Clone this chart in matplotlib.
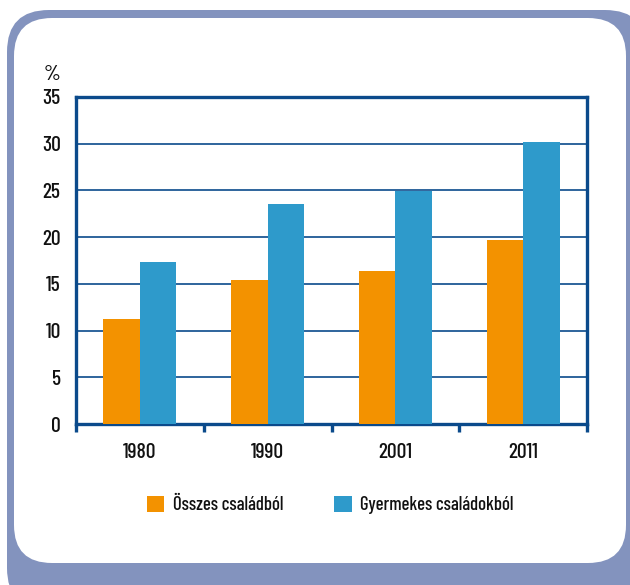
import matplotlib.pyplot as plt
from matplotlib.patches import FancyBboxPatch
import numpy as np

plt.rcParams["font.family"] = ["Barlow Condensed", "DejaVu Sans"]
plt.rcParams["font.weight"] = "medium"

years = ["1980", "1990", "2001", "2011"]
osszes = [11.2, 15.4, 16.4, 19.7]
gyermekes = [17.3, 23.5, 24.9, 30.2]
series_labels = ["Összes családból", "Gyermekes családokból"]
y_ticks = [0, 5, 10, 15, 20, 25, 30, 35]

ORANGE = "#F39200"
BLUE = "#2E9ACB"
NAVY = "#0B4A8B"
FRAME = "#8393BE"
TEXT = "#111111"
W, H = 630, 585
FS = 15.5

fig = plt.figure(figsize=(W / 100, H / 100), dpi=100)

# background frame, in pixel units
bg = fig.add_axes([0, 0, 1, 1], zorder=-1)
bg.set_xlim(0, W)
bg.set_ylim(H, 0)
bg.axis("off")
bg.add_patch(FancyBboxPatch((7, 10), 640, 600, boxstyle="round,pad=0,rounding_size=42",
                            fc=FRAME, ec="none"))
bg.add_patch(FancyBboxPatch((14, 18), 612, 545, boxstyle="round,pad=0,rounding_size=38",
                            fc="white", ec="none"))

ax = fig.add_axes([76 / W, 1 - 424 / H, 511 / W, 327 / H])
x = np.arange(len(years))
bw = 0.285
ax.bar(x - bw / 2, osszes, bw, color=ORANGE, label=series_labels[0], zorder=3)
ax.bar(x + bw / 2, gyermekes, bw, color=BLUE, label=series_labels[1], zorder=3)

ax.set_xlim(-0.5, len(years) - 0.5)
ax.set_ylim(0, 35)
ax.set_yticks(y_ticks)
ax.yaxis.grid(True, color=NAVY, linewidth=1.2, zorder=1)
ax.set_axisbelow(True)
for s in ax.spines.values():
    s.set_color(NAVY)
    s.set_linewidth(2.4)

ax.tick_params(axis="y", length=0, pad=11, labelsize=FS, labelcolor=TEXT)
ax.set_xticks(x)
ax.set_xticklabels(years)
ax.tick_params(axis="x", which="major", length=0, pad=14, labelsize=FS, labelcolor=TEXT)
ax.set_xticks(np.arange(-0.5, len(years)), minor=True)
ax.tick_params(axis="x", which="minor", length=6, width=2.4, color=NAVY, direction="out")

fig.text(44 / W, 1 - 75 / H, "%", fontsize=FS, color=TEXT, va="center", ha="left")

fig.legend(loc="center", bbox_to_anchor=(330 / W, 1 - 505 / H), ncol=2, frameon=False,
           fontsize=13.5, handlelength=0.95, handleheight=0.95, handletextpad=0.45,
           columnspacing=2.7, labelcolor=TEXT)

fig.savefig("out.png", dpi=100)
